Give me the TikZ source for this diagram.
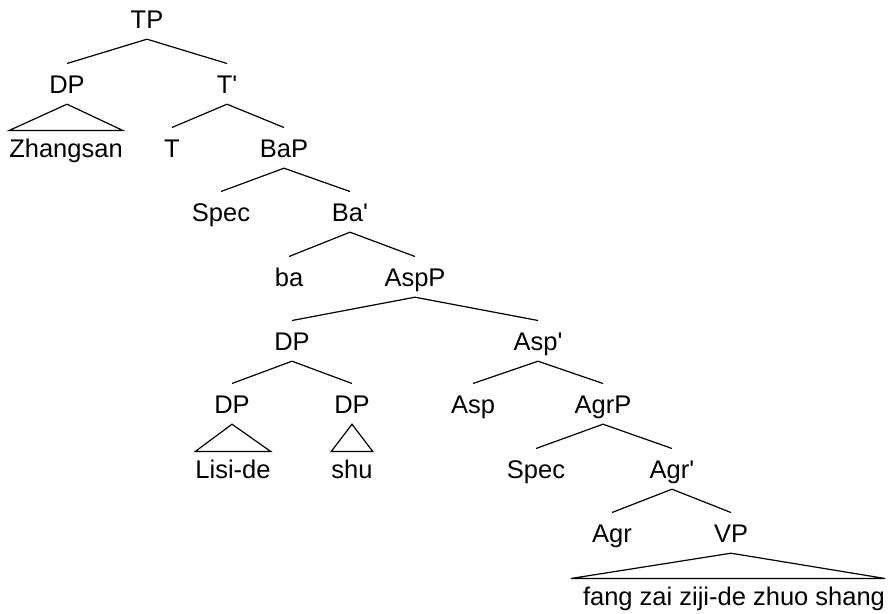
\documentclass[tikz,border=0pt]{standalone}
\usepackage{fontspec}
\newfontfamily\treefont{Liberation Sans}[Ligatures=TeXOff]
\begin{document}
\begin{tikzpicture}[x=1pt,y=-1pt,
  tn/.style={font=\treefont\fontsize{25.5}{30}\selectfont, anchor=base,
    text height=18.3pt, text depth=0pt, inner xsep=0pt, inner ysep=11pt},
  leaf/.style={tn, inner ysep=8pt},
  br/.style={line width=1.2pt},
  tri/.style={line width=1.2pt, line join=miter}]
\useasboundingbox (0,0) rectangle (891,613);
% row 1
\node[tn] (tp) at (147,28) {TP};
% row 2
\node[tn] (dpa) at (67,93) {DP};
\node[tn] (tbar) at (227,93) {T'};
% row 3
\node[leaf] (zh) at (66,157) {Zhangsan};
\node[tn] (t) at (172,157) {T};
\node[tn] (bap) at (284,157) {BaP};
% row 4
\node[tn] (speca) at (221,221) {Spec};
\node[tn] (babar) at (350,221) {Ba'};
% row 5
\node[tn] (ba) at (289,286) {ba};
\node[tn] (aspp) at (415,286) {AspP};
% row 6
\node[tn] (dpb) at (292,350) {DP};
\node[tn] (aspbar) at (538,350) {Asp'};
% row 7
\node[tn] (dpc) at (232,413) {DP};
\node[tn] (dpd) at (352,413) {DP};
\node[tn] (asp) at (473,413) {Asp};
\node[tn] (agrp) at (603,413) {AgrP};
% row 8
\node[leaf] (lisi) at (233,478) {Lisi-de};
\node[leaf] (shu) at (352,478) {shu};
\node[tn] (specb) at (536,478) {Spec};
\node[tn] (agrbar) at (672,478) {Agr'};
% row 9
\node[tn] (agr) at (612,542) {Agr};
\node[tn] (vp) at (731,542) {VP};
% row 10
\node[leaf] (fang) at (734,605) {fang zai ziji-de zhuo shang};
% branches
\draw[br] (dpa.north) -- (tp.south) -- (tbar.north);
\draw[br] (t.north) -- (tbar.south) -- (bap.north);
\draw[br] (speca.north) -- (bap.south) -- (babar.north);
\draw[br] (ba.north) -- (babar.south) -- (aspp.north);
\draw[br] (dpb.north) -- (aspp.south) -- (aspbar.north);
\draw[br] (dpc.north) -- (dpb.south) -- (dpd.north);
\draw[br] (asp.north) -- (aspbar.south) -- (agrp.north);
\draw[br] (specb.north) -- (agrp.south) -- (agrbar.north);
\draw[br] (agr.north) -- (agrbar.south) -- (vp.north);
% triangles
\draw[tri] (dpa.south) -- (zh.north west) -- (zh.north east) -- cycle;
\draw[tri] (dpc.south) -- (lisi.north west) -- (lisi.north east) -- cycle;
\draw[tri] (dpd.south) -- (shu.north west) -- (shu.north east) -- cycle;
\draw[tri] (vp.south) -- ([xshift=-12pt]fang.north west) -- (fang.north east) -- cycle;
\end{tikzpicture}
\end{document}
